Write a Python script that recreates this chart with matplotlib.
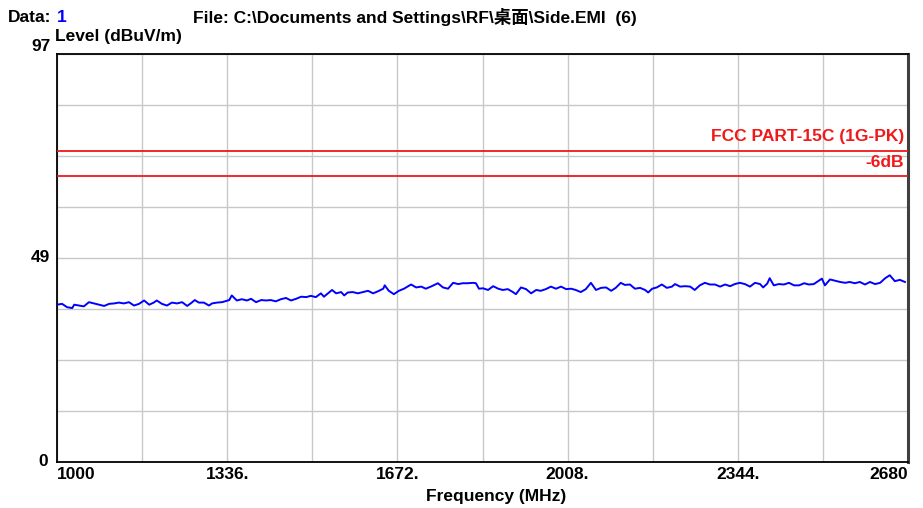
import matplotlib
matplotlib.use("Agg")
import matplotlib.pyplot as plt
import numpy as np

plt.rcParams["font.family"] = ["Liberation Sans", "Noto Sans CJK SC", "DejaVu Sans"]
plt.rcParams["font.weight"] = "bold"

# trace (MHz, dBuV/m)
freq = [
    1000, 1010, 1020, 1030, 1034, 1043, 1053, 1063, 1073, 1083, 1093, 1103, 1113, 1122,
    1132, 1142, 1152, 1162, 1172, 1182, 1191, 1197, 1207, 1217, 1227, 1237, 1247, 1257,
    1266, 1272, 1280, 1290, 1300, 1306, 1316, 1326, 1340, 1345, 1355, 1365, 1375, 1383,
    1393, 1403, 1413, 1422, 1432, 1442, 1452, 1462, 1472, 1482, 1492, 1501, 1511, 1521,
    1527, 1537, 1543, 1551, 1561, 1567, 1574, 1584, 1594, 1604, 1614, 1624, 1634, 1644,
    1647, 1655, 1665, 1675, 1685, 1699, 1709, 1719, 1728, 1738, 1752, 1762, 1772, 1782,
    1792, 1801, 1811, 1821, 1827, 1833, 1841, 1851, 1861, 1871, 1880, 1890, 1900, 1906,
    1916, 1926, 1936, 1946, 1955, 1965, 1975, 1985, 1995, 2005, 2015, 2024, 2034, 2044,
    2054, 2064, 2074, 2084, 2094, 2103, 2113, 2121, 2131, 2141, 2151, 2161, 2167, 2175,
    2184, 2194, 2204, 2214, 2220, 2230, 2240, 2250, 2259, 2269, 2279, 2289, 2299, 2309,
    2319, 2329, 2338, 2348, 2358, 2368, 2378, 2388, 2394, 2402, 2407, 2415, 2425, 2435,
    2445, 2455, 2465, 2475, 2484, 2494, 2504, 2510, 2516, 2526, 2536, 2546, 2556, 2565,
    2575, 2585, 2595, 2605, 2615, 2625, 2635, 2644, 2654, 2664, 2674,
]
level = [
    37.4, 37.6, 36.8, 36.6, 37.4, 37.2, 37.0, 38.0, 37.7, 37.4, 37.1, 37.6, 37.7, 37.9,
    37.7, 38.0, 37.2, 37.6, 38.4, 37.4, 37.9, 38.4, 37.6, 37.2, 37.9, 37.7, 38.0, 37.1,
    37.9, 38.5, 37.9, 37.9, 37.2, 37.7, 37.9, 38.0, 38.5, 39.6, 38.4, 38.7, 38.4, 38.8,
    38.0, 38.5, 38.4, 38.5, 38.2, 38.7, 39.0, 38.4, 38.8, 39.3, 39.2, 39.5, 39.2, 40.1,
    39.3, 40.3, 40.9, 40.1, 40.4, 39.6, 40.3, 40.4, 40.1, 40.4, 40.7, 40.1, 40.6, 41.2,
    42.0, 40.7, 39.9, 40.7, 41.2, 42.2, 41.5, 41.7, 41.2, 41.7, 42.5, 41.5, 41.2, 42.6,
    42.3, 42.5, 42.5, 42.6, 42.5, 41.2, 41.3, 40.9, 41.8, 41.2, 40.9, 41.1, 40.4, 39.9,
    41.5, 41.1, 40.1, 40.9, 40.7, 41.1, 41.7, 41.2, 41.7, 41.1, 41.2, 40.9, 40.4, 41.1,
    42.6, 40.9, 41.4, 41.5, 40.7, 41.4, 42.6, 42.1, 42.2, 41.2, 41.4, 40.9, 40.3, 41.2,
    41.5, 42.2, 41.4, 41.7, 42.3, 41.7, 41.8, 41.7, 40.9, 42.0, 42.6, 42.2, 42.2, 41.7,
    42.2, 41.8, 42.3, 42.6, 42.3, 41.7, 42.6, 42.3, 41.5, 42.4, 43.7, 42.0, 42.3, 42.2,
    42.6, 42.0, 42.0, 42.5, 42.2, 42.3, 43.1, 43.6, 42.0, 43.4, 43.1, 42.8, 42.6, 42.8,
    42.5, 42.8, 42.2, 42.8, 42.3, 42.6, 43.7, 44.4, 43.0, 43.3, 42.8,
]

limits = [74, 68]
limit_labels = ["FCC PART-15C (1G-PK)", "-6dB"]
x_ticks = [1000, 1336, 1672, 2008, 2344, 2680]
x_tick_labels = ["1000", "1336.", "1672.", "2008.", "2344.", "2680"]

FS = 12.5

fig = plt.figure(figsize=(9.23, 5.08), dpi=100)
fig.patch.set_facecolor("white")
ax = fig.add_axes([57 / 923, 46 / 508, 851 / 923, 408 / 508])

ax.set_xlim(1000, 2680)
ax.set_ylim(0, 97)
ax.set_xticks(np.linspace(1000, 2680, 11))
ax.set_yticks(np.linspace(0, 97, 9))
ax.set_xticklabels([])
ax.set_yticklabels([])
ax.tick_params(length=0)
ax.grid(color="#c8c8c8", lw=1.0)
ax.set_axisbelow(True)
for s in ["left", "top", "bottom"]:
    ax.spines[s].set_color("black")
    ax.spines[s].set_linewidth(1.3)
ax.spines["right"].set_color("#404040")
ax.spines["right"].set_linewidth(2.2)

for lim, lab in zip(limits, limit_labels):
    ax.axhline(lim, color="#f01818", lw=1.3, zorder=3)
    ax.text(2672, lim + 3.3, lab, color="#f01818", ha="right", va="center",
            fontsize=FS, fontweight="bold")

ax.plot(freq, level, color="#0000ff", lw=1.4, zorder=4)

# axis labels placed the way the analyser software draws them
for fx, lab in zip(x_ticks, x_tick_labels):
    ha = "left" if fx == 1000 else ("right" if fx == 2680 else "center")
    ax.text(fx, -2.9, lab, ha=ha, va="center", fontsize=FS, fontweight="bold")
ytr = ax.get_yaxis_transform()
ax.text(-0.008, 97 + 1.9, "97", transform=ytr, ha="right", va="center",
        fontsize=FS, fontweight="bold")
ax.text(-0.008, 48.5, "49", transform=ytr, ha="right", va="center",
        fontsize=FS, fontweight="bold")
ax.text(-0.010, 0, "0", transform=ytr, ha="right", va="center",
        fontsize=FS, fontweight="bold")

fig.text(496 / 923, 1 - 496 / 508, "Frequency (MHz)", ha="center", va="center",
         fontsize=FS, fontweight="bold")
fig.text(55 / 923, 1 - 36 / 508, "Level (dBuV/m)", ha="left", va="center",
         fontsize=FS, fontweight="bold")
fig.text(8 / 923, 1 - 17 / 508, "Data:", ha="left", va="center",
         fontsize=FS, fontweight="bold")
fig.text(57 / 923, 1 - 17 / 508, "1", ha="left", va="center", color="#0000ff",
         fontsize=FS, fontweight="bold")
fig.text(193 / 923, 1 - 17 / 508,
         "File: C:\\Documents and Settings\\RF\\桌面\\Side.EMI  (6)",
         ha="left", va="center", fontsize=FS, fontweight="bold")

fig.savefig("out.png", dpi=100)
